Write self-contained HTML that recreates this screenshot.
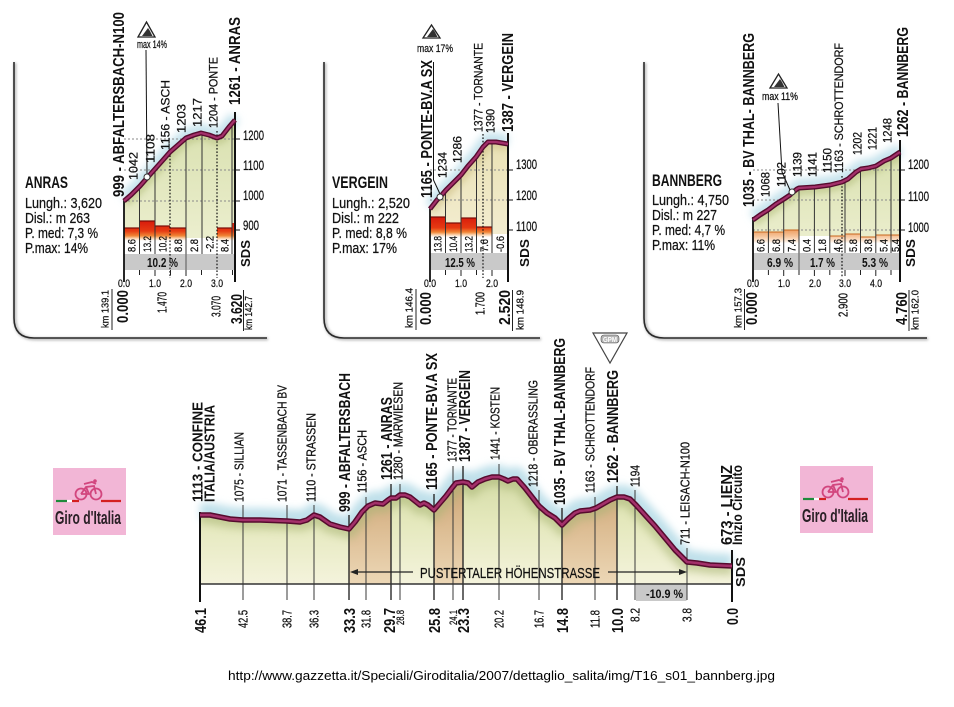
<!DOCTYPE html>
<html><head><meta charset="utf-8"><style>
html,body{margin:0;padding:0;background:#fff;}
svg{display:block;}
text{font-family:"Liberation Sans",Arial,sans-serif;fill:#111;stroke:#111;stroke-width:0.25;}
.b{font-weight:bold;stroke:none;}
</style></head><body>
<svg width="954" height="707" viewBox="0 0 954 707" xmlns="http://www.w3.org/2000/svg">
<defs>
<filter id="bl4" x="-20%" y="-50%" width="140%" height="200%"><feGaussianBlur stdDeviation="4"/></filter>
<filter id="bl3" x="-20%" y="-50%" width="140%" height="200%"><feGaussianBlur stdDeviation="3"/></filter>
<filter id="bl1" x="-10%" y="-10%" width="120%" height="120%"><feGaussianBlur stdDeviation="1.2"/></filter>
<linearGradient id="gGreen" x1="0" y1="470" x2="0" y2="584" gradientUnits="userSpaceOnUse"><stop offset="0" stop-color="#d2daa4"/><stop offset="0.45" stop-color="#e4e8bc"/><stop offset="1" stop-color="#f4f3dc"/></linearGradient>
<linearGradient id="gBrown" x1="0" y1="470" x2="0" y2="584" gradientUnits="userSpaceOnUse"><stop offset="0" stop-color="#c99f70"/><stop offset="0.5" stop-color="#dcbc92"/><stop offset="1" stop-color="#ecd7b6"/></linearGradient>
<linearGradient id="gP1" x1="0" y1="120" x2="0" y2="254" gradientUnits="userSpaceOnUse"><stop offset="0" stop-color="#d8e0ae"/><stop offset="1" stop-color="#eef0d2"/></linearGradient>
<linearGradient id="gP2" x1="0" y1="140" x2="0" y2="254" gradientUnits="userSpaceOnUse"><stop offset="0" stop-color="#e9e1b4"/><stop offset="1" stop-color="#f5efd6"/></linearGradient>
<linearGradient id="gP3" x1="0" y1="150" x2="0" y2="254" gradientUnits="userSpaceOnUse"><stop offset="0" stop-color="#d8e0ae"/><stop offset="1" stop-color="#eef0d2"/></linearGradient>
<linearGradient id="bar1" x1="0" y1="221" x2="0" y2="254" gradientUnits="userSpaceOnUse"><stop offset="0" stop-color="#d81c0c"/><stop offset="0.3" stop-color="#e63a12"/><stop offset="0.45" stop-color="#f08636"/><stop offset="0.53" stop-color="#fbd6b4"/><stop offset="0.6" stop-color="#ffffff"/><stop offset="1" stop-color="#ffffff"/></linearGradient>
<linearGradient id="bar2" x1="0" y1="217" x2="0" y2="253" gradientUnits="userSpaceOnUse"><stop offset="0" stop-color="#d81c0c"/><stop offset="0.3" stop-color="#e63a12"/><stop offset="0.42" stop-color="#f08636"/><stop offset="0.5" stop-color="#fbd6b4"/><stop offset="0.56" stop-color="#ffffff"/><stop offset="1" stop-color="#ffffff"/></linearGradient>
<linearGradient id="bar3" x1="0" y1="229" x2="0" y2="253" gradientUnits="userSpaceOnUse"><stop offset="0" stop-color="#ec9a5a"/><stop offset="0.3" stop-color="#f6c49a"/><stop offset="0.5" stop-color="#fde9d6"/><stop offset="0.6" stop-color="#ffffff"/><stop offset="1" stop-color="#ffffff"/></linearGradient>
<clipPath id="cBot"><path d="M200,515 L210,515 L220,517 L230,519 L243,520 L260,520 L287,521 L300,522 L307,520 L314,515 L320,517 L330,524 L340,527 L349,529 L355,522 L362,512 L368,506 L375,503 L383,504 L388,500 L391,498 L396,498 L400,495 L405,495 L410,497 L415,501 L420,505 L424,503 L428,505 L434,510 L440,503 L446,496 L452,488 L456,483 L463,482 L468,483 L472,487 L478,482 L485,479 L492,477 L499,477 L504,479 L508,481 L513,479 L517,479 L525,488 L532,497 L539,506 L547,513 L555,518 L562,525 L568,519 L575,513 L580,511 L590,510 L596,508 L603,504 L610,500 L617,497 L624,497 L630,499 L636,505 L645,515 L655,526 L665,538 L675,550 L687,562 L697,563 L710,565 L732,566 L732,584 L200,584 Z"/></clipPath>
<clipPath id="cP1"><path d="M124,201 L131,195 L140,186 L147,178 L155,169 L163,160 L170,152 L178,145 L186,138 L194,135 L201,133 L209,135 L217,138 L222,136 L229,127 L235,120 L235,254 L124,254 Z"/></clipPath>
<clipPath id="cP2"><path d="M430,209 L437,200 L440,197 L446,190 L453,183 L461,175 L468,166 L476,157 L483,147 L488,142 L496,142 L508,144 L508,254 L430,254 Z"/></clipPath>
<clipPath id="cP3"><path d="M753,220 L760,215 L768,210 L776,204 L784,199 L790,195 L792,193 L797,189 L799,188 L815,187 L830,185 L842,182 L848,179 L856,172 L861,169 L868,168 L876,166 L884,161 L891,158 L900,152 L900,254 L753,254 Z"/></clipPath>
</defs>

<!-- ============ PANEL FRAMES ============ -->
<g fill="none">
<path d="M15,63 L15,318 Q15,339 36,339 L268,339" stroke="#bdbdbd" stroke-width="3" filter="url(#bl1)"/>
<path d="M14,62 L14,318 Q14,338 34,338 L267,338" stroke="#2a2a2a" stroke-width="1.6"/>
<path d="M325,63 L325,318 Q325,339 346,339 L541,339" stroke="#bdbdbd" stroke-width="3" filter="url(#bl1)"/>
<path d="M324,62 L324,318 Q324,338 344,338 L540,338" stroke="#2a2a2a" stroke-width="1.6"/>
<path d="M645,63 L645,318 Q645,339 666,339 L928,339" stroke="#bdbdbd" stroke-width="3" filter="url(#bl1)"/>
<path d="M644,62 L644,318 Q644,338 664,338 L927,338" stroke="#2a2a2a" stroke-width="1.6"/>
</g>

<!-- ============ PANEL 1 : ANRAS ============ -->
<path d="M124,198 L131,192 L140,183 L147,175 L155,166 L163,157 L170,149 L178,142 L186,135 L194,132 L201,130 L209,132 L217,135 L222,133 L229,124 L235,117" fill="none" stroke="#c4e2ec" stroke-width="12" filter="url(#bl4)"/>
<rect x="124" y="110" width="111" height="145" fill="url(#gP1)" clip-path="url(#cP1)"/>
<path d="M124,201 L131,195 L140,186 L147,178 L155,169 L163,160 L170,152 L178,145 L186,138 L194,135 L201,133 L209,135 L217,138 L222,136 L229,127 L235,120" fill="none" stroke="#b9c385" stroke-width="14" opacity="0.6" filter="url(#bl3)" clip-path="url(#cP1)"/>
<g stroke="#8a8a8a" stroke-width="1" stroke-dasharray="2,2"><line x1="124" y1="139" x2="235" y2="139"/><line x1="124" y1="170" x2="235" y2="170"/><line x1="124" y1="201" x2="235" y2="201"/></g>
<g fill="url(#bar1)">
<rect x="124" y="228" width="15.5" height="26"/><rect x="139.5" y="221" width="15.5" height="33"/><rect x="155" y="226" width="15" height="28"/><rect x="170" y="228" width="16" height="26"/><rect x="186" y="238" width="16" height="16" fill="#fff"/><rect x="202" y="238" width="15" height="16" fill="#fff"/><rect x="217" y="228" width="15" height="26"/><rect x="232" y="223" width="3" height="31"/>
</g>
<g stroke="#7a0c08" stroke-width="1.2"><line x1="124" y1="228" x2="139.5" y2="228"/><line x1="139.5" y1="221" x2="155" y2="221"/><line x1="155" y1="226" x2="170" y2="226"/><line x1="170" y1="228" x2="186" y2="228"/><line x1="217" y1="228" x2="232" y2="228"/></g>
<g stroke="#333" stroke-width="1"><line x1="139.5" y1="185" x2="139.5" y2="254"/><line x1="155" y1="169" x2="155" y2="254"/><line x1="186" y1="138" x2="186" y2="270"/><line x1="202" y1="133" x2="202" y2="254"/><line x1="232" y1="124" x2="232" y2="254"/></g>
<rect x="124" y="254" width="111" height="16" fill="#c9c9c9"/>
<line x1="186" y1="254" x2="186" y2="270" stroke="#555" stroke-width="1"/>
<g stroke="#111" stroke-width="1.2" stroke-dasharray="1.6,1.8"><line x1="170" y1="152" x2="170" y2="278"/><line x1="217" y1="131" x2="217" y2="278"/></g>
<text class="b" x="147" y="267" font-size="13" textLength="31" lengthAdjust="spacingAndGlyphs">10.2 %</text>
<g stroke="#222" stroke-width="1"><line x1="139.5" y1="270" x2="139.5" y2="275"/><line x1="155" y1="270" x2="155" y2="276"/><line x1="170.5" y1="270" x2="170.5" y2="275"/><line x1="186" y1="270" x2="186" y2="276"/><line x1="201.5" y1="270" x2="201.5" y2="275"/><line x1="232.5" y1="270" x2="232.5" y2="275"/></g>
<line x1="124" y1="200" x2="124" y2="282" stroke="#111" stroke-width="1.8"/>
<line x1="235" y1="112" x2="235" y2="282" stroke="#111" stroke-width="2"/>
<g stroke="#111" stroke-width="1"><line x1="235" y1="139" x2="240" y2="139"/><line x1="235" y1="170" x2="240" y2="170"/><line x1="235" y1="201" x2="240" y2="201"/><line x1="235" y1="230" x2="240" y2="230"/></g>
<g font-size="14"><text x="243" y="140" textLength="21" lengthAdjust="spacingAndGlyphs">1200</text><text x="243" y="170" textLength="21" lengthAdjust="spacingAndGlyphs">1100</text><text x="243" y="200" textLength="21" lengthAdjust="spacingAndGlyphs">1000</text><text x="243" y="230" textLength="16" lengthAdjust="spacingAndGlyphs">900</text></g>
<path d="M124,201 L131,195 L140,186 L147,178 L155,169 L163,160 L170,152 L178,145 L186,138 L194,135 L201,133 L209,135 L217,138 L222,136 L229,127 L235,120" fill="none" stroke="#560b2e" stroke-width="5" stroke-linejoin="round"/>
<path d="M124,201 L131,195 L140,186 L147,178 L155,169 L163,160 L170,152 L178,145 L186,138 L194,135 L201,133 L209,135 L217,138 L222,136 L229,127 L235,120" fill="none" stroke="#a3306a" stroke-width="2.2" stroke-linejoin="round"/>
<path d="M146,50 L147,174" stroke="#111" stroke-width="1" fill="none"/>
<circle cx="147" cy="177" r="3" fill="#fff" stroke="#333" stroke-width="1"/>
<polygon points="138,37 146.5,22 155,37" fill="#fff" stroke="#222" stroke-width="1.3"/>
<polygon points="142,36 148,28 150,31 152.5,36" fill="#333"/>
<text x="137" y="48" font-size="11" textLength="30" lengthAdjust="spacingAndGlyphs">max 14%</text>
<g font-size="12">
<text class="b" font-size="16" transform="translate(123.8,197) rotate(-90)" textLength="185" lengthAdjust="spacingAndGlyphs">999 - ABFALTERSBACH-N100</text>
<text transform="translate(137.3,180) rotate(-90)" textLength="28" lengthAdjust="spacingAndGlyphs">1042</text>
<text transform="translate(154.3,163) rotate(-90)" textLength="29" lengthAdjust="spacingAndGlyphs">1108</text>
<text transform="translate(169.3,150) rotate(-90)" textLength="70" lengthAdjust="spacingAndGlyphs">1156 - ASCH</text>
<text transform="translate(185.3,133) rotate(-90)" textLength="29" lengthAdjust="spacingAndGlyphs">1203</text>
<text transform="translate(201.3,127) rotate(-90)" textLength="29" lengthAdjust="spacingAndGlyphs">1217</text>
<text transform="translate(217.3,128) rotate(-90)" textLength="71" lengthAdjust="spacingAndGlyphs">1204 - PONTE</text>
<text class="b" font-size="16" transform="translate(239.8,105) rotate(-90)" textLength="88" lengthAdjust="spacingAndGlyphs">1261 - ANRAS</text>
</g>
<g font-size="11">
<text transform="translate(135.7,252) rotate(-90)" textLength="13" lengthAdjust="spacingAndGlyphs">8.6</text>
<text transform="translate(151.2,252) rotate(-90)" textLength="16" lengthAdjust="spacingAndGlyphs">13.2</text>
<text transform="translate(166.5,252) rotate(-90)" textLength="16" lengthAdjust="spacingAndGlyphs">10.2</text>
<text transform="translate(182,252) rotate(-90)" textLength="13" lengthAdjust="spacingAndGlyphs">8.8</text>
<text transform="translate(198,252) rotate(-90)" textLength="13" lengthAdjust="spacingAndGlyphs">2.8</text>
<text transform="translate(213.5,252) rotate(-90)" textLength="16" lengthAdjust="spacingAndGlyphs">-2.2</text>
<text transform="translate(228.5,252) rotate(-90)" textLength="13" lengthAdjust="spacingAndGlyphs">8.4</text>
</g>
<g font-size="11"><text x="118" y="287" textLength="12" lengthAdjust="spacingAndGlyphs">0.0</text><text x="149" y="287" textLength="12" lengthAdjust="spacingAndGlyphs">1.0</text><text x="180" y="287" textLength="12" lengthAdjust="spacingAndGlyphs">2.0</text><text x="211" y="287" textLength="12" lengthAdjust="spacingAndGlyphs">3.0</text></g>
<text font-size="10" transform="translate(108.6,328) rotate(-90)" textLength="38" lengthAdjust="spacingAndGlyphs">km 139.1</text>
<line x1="112" y1="289" x2="112" y2="330" stroke="#222" stroke-width="1"/>
<text class="b" font-size="16" transform="translate(127.8,323) rotate(-90)" textLength="33" lengthAdjust="spacingAndGlyphs">0.000</text>
<text font-size="13" transform="translate(166.7,313) rotate(-90)" textLength="21" lengthAdjust="spacingAndGlyphs">1.470</text>
<text font-size="13" transform="translate(220.7,317) rotate(-90)" textLength="21" lengthAdjust="spacingAndGlyphs">3.070</text>
<text class="b" font-size="16" transform="translate(241.8,324) rotate(-90)" textLength="30" lengthAdjust="spacingAndGlyphs">3.620</text>
<line x1="243.5" y1="290" x2="243.5" y2="331" stroke="#222" stroke-width="1"/>
<text font-size="10" transform="translate(252,330) rotate(-90)" textLength="34" lengthAdjust="spacingAndGlyphs">km 142.7</text>
<text class="b" font-size="13" transform="translate(250,267) rotate(-90)" textLength="27" lengthAdjust="spacingAndGlyphs">SDS</text>
<text class="b" x="25" y="188" font-size="17" textLength="43" lengthAdjust="spacingAndGlyphs">ANRAS</text>
<g font-size="15"><text x="25" y="208" textLength="77" lengthAdjust="spacingAndGlyphs">Lungh.: 3,620</text><text x="25" y="223" textLength="65" lengthAdjust="spacingAndGlyphs">Disl.: m 263</text><text x="25" y="238" textLength="73" lengthAdjust="spacingAndGlyphs">P. med: 7,3 %</text><text x="25" y="253" textLength="63" lengthAdjust="spacingAndGlyphs">P.max: 14%</text></g>

<!-- ============ PANEL 2 : VERGEIN ============ -->
<path d="M430,206 L437,197 L440,194 L446,187 L453,180 L461,172 L468,163 L476,154 L483,144 L488,139 L496,139 L508,141" fill="none" stroke="#c4e2ec" stroke-width="12" filter="url(#bl4)"/>
<rect x="430" y="130" width="78" height="125" fill="url(#gP2)" clip-path="url(#cP2)"/>
<path d="M430,209 L437,200 L440,197 L446,190 L453,183 L461,175 L468,166 L476,157 L483,147 L488,142 L496,142 L508,144" fill="none" stroke="#cdbf86" stroke-width="14" opacity="0.55" filter="url(#bl3)" clip-path="url(#cP2)"/>
<g stroke="#8a8a8a" stroke-width="1" stroke-dasharray="2,2"><line x1="430" y1="170" x2="508" y2="170"/><line x1="430" y1="200" x2="508" y2="200"/></g>
<g fill="url(#bar2)"><rect x="430" y="217" width="15.5" height="36"/><rect x="445.5" y="223" width="15.5" height="30"/><rect x="461" y="218" width="15.5" height="35"/><rect x="476.5" y="227" width="15.5" height="26"/><rect x="492" y="234" width="16" height="19" fill="#fff"/></g>
<g stroke="#7a0c08" stroke-width="1.2"><line x1="430" y1="217" x2="445.5" y2="217"/><line x1="445.5" y1="223" x2="461" y2="223"/><line x1="461" y1="218" x2="476.5" y2="218"/><line x1="476.5" y1="227" x2="492" y2="227"/></g>
<g stroke="#333" stroke-width="1"><line x1="445.5" y1="190" x2="445.5" y2="253"/><line x1="461" y1="175" x2="461" y2="253"/><line x1="476.5" y1="157" x2="476.5" y2="253"/><line x1="492" y1="142" x2="492" y2="253"/></g>
<rect x="430" y="253" width="78" height="17" fill="#c9c9c9"/>
<line x1="483" y1="134" x2="483" y2="278" stroke="#111" stroke-width="1.2" stroke-dasharray="1.6,1.8"/>
<text class="b" x="445" y="267" font-size="13" textLength="30" lengthAdjust="spacingAndGlyphs">12.5 %</text>
<g stroke="#222" stroke-width="1"><line x1="445.5" y1="270" x2="445.5" y2="275"/><line x1="461" y1="270" x2="461" y2="276"/><line x1="476.5" y1="270" x2="476.5" y2="275"/><line x1="492" y1="270" x2="492" y2="276"/></g>
<line x1="430" y1="206" x2="430" y2="282" stroke="#111" stroke-width="1.8"/>
<line x1="508" y1="133" x2="508" y2="282" stroke="#111" stroke-width="2"/>
<g stroke="#111" stroke-width="1"><line x1="508" y1="170" x2="513" y2="170"/><line x1="508" y1="200" x2="513" y2="200"/><line x1="508" y1="230" x2="513" y2="230"/></g>
<g font-size="14"><text x="516" y="169" textLength="21" lengthAdjust="spacingAndGlyphs">1300</text><text x="516" y="200" textLength="21" lengthAdjust="spacingAndGlyphs">1200</text><text x="516" y="231" textLength="21" lengthAdjust="spacingAndGlyphs">1100</text></g>
<path d="M430,209 L437,200 L440,197 L446,190 L453,183 L461,175 L468,166 L476,157 L483,147 L488,142 L496,142 L508,144" fill="none" stroke="#560b2e" stroke-width="5" stroke-linejoin="round"/>
<path d="M430,209 L437,200 L440,197 L446,190 L453,183 L461,175 L468,166 L476,157 L483,147 L488,142 L496,142 L508,144" fill="none" stroke="#a3306a" stroke-width="2.2" stroke-linejoin="round"/>
<path d="M433.5,62 L433.5,180 L440,194" stroke="#111" stroke-width="1" fill="none"/>
<circle cx="440" cy="197" r="3" fill="#fff" stroke="#333" stroke-width="1"/>
<polygon points="423,38 431.5,25 440,38" fill="#fff" stroke="#222" stroke-width="1.3"/>
<polygon points="427,37 433,29 435,32 437.5,37" fill="#333"/>
<text x="417" y="52" font-size="11" textLength="36" lengthAdjust="spacingAndGlyphs">max 17%</text>
<g font-size="12">
<text class="b" font-size="16" transform="translate(431.8,198) rotate(-90)" textLength="138" lengthAdjust="spacingAndGlyphs">1165 - PONTE-BV.A SX</text>
<text transform="translate(446.3,178) rotate(-90)" textLength="26" lengthAdjust="spacingAndGlyphs">1234</text>
<text transform="translate(461.3,163) rotate(-90)" textLength="27" lengthAdjust="spacingAndGlyphs">1286</text>
<text transform="translate(482.3,132) rotate(-90)" textLength="89" lengthAdjust="spacingAndGlyphs">1377 - TORNANTE</text>
<text transform="translate(494.3,133) rotate(-90)" textLength="24" lengthAdjust="spacingAndGlyphs">1390</text>
<text class="b" font-size="16" transform="translate(512.8,132) rotate(-90)" textLength="99" lengthAdjust="spacingAndGlyphs">1387 - VERGEIN</text>
</g>
<g font-size="11">
<text transform="translate(441.7,252) rotate(-90)" textLength="16" lengthAdjust="spacingAndGlyphs">13.8</text>
<text transform="translate(457.2,252) rotate(-90)" textLength="16" lengthAdjust="spacingAndGlyphs">10.4</text>
<text transform="translate(472.7,252) rotate(-90)" textLength="16" lengthAdjust="spacingAndGlyphs">13.2</text>
<text transform="translate(488.2,252) rotate(-90)" textLength="13" lengthAdjust="spacingAndGlyphs">7.6</text>
<text transform="translate(504,252) rotate(-90)" textLength="16" lengthAdjust="spacingAndGlyphs">-0.6</text>
</g>
<g font-size="11"><text x="424" y="287" textLength="12" lengthAdjust="spacingAndGlyphs">0.0</text><text x="455" y="287" textLength="12" lengthAdjust="spacingAndGlyphs">1.0</text><text x="486" y="287" textLength="12" lengthAdjust="spacingAndGlyphs">2.0</text></g>
<text font-size="10" transform="translate(412.6,328) rotate(-90)" textLength="40" lengthAdjust="spacingAndGlyphs">km 146.4</text>
<line x1="416" y1="289" x2="416" y2="330" stroke="#222" stroke-width="1"/>
<text class="b" font-size="16" transform="translate(430.8,325) rotate(-90)" textLength="33" lengthAdjust="spacingAndGlyphs">0.000</text>
<text font-size="13" transform="translate(484.7,315) rotate(-90)" textLength="23" lengthAdjust="spacingAndGlyphs">1.700</text>
<text class="b" font-size="16" transform="translate(509.8,325) rotate(-90)" textLength="35" lengthAdjust="spacingAndGlyphs">2.520</text>
<line x1="512.5" y1="290" x2="512.5" y2="331" stroke="#222" stroke-width="1"/>
<text font-size="10" transform="translate(523.6,330) rotate(-90)" textLength="40" lengthAdjust="spacingAndGlyphs">km 148.9</text>
<text class="b" font-size="13" transform="translate(529,267) rotate(-90)" textLength="28" lengthAdjust="spacingAndGlyphs">SDS</text>
<text class="b" x="332" y="188" font-size="17" textLength="56" lengthAdjust="spacingAndGlyphs">VERGEIN</text>
<g font-size="15"><text x="332" y="208" textLength="78" lengthAdjust="spacingAndGlyphs">Lungh.: 2,520</text><text x="332" y="223" textLength="67" lengthAdjust="spacingAndGlyphs">Disl.: m 222</text><text x="332" y="238" textLength="75" lengthAdjust="spacingAndGlyphs">P. med: 8,8 %</text><text x="332" y="253" textLength="65" lengthAdjust="spacingAndGlyphs">P.max: 17%</text></g>

<!-- ============ PANEL 3 : BANNBERG ============ -->
<path d="M753,217 L760,212 L768,207 L776,201 L784,196 L790,192 L792,190 L797,186 L799,185 L815,184 L830,182 L842,179 L848,176 L856,169 L861,166 L868,165 L876,163 L884,158 L891,155 L900,149" fill="none" stroke="#c4e2ec" stroke-width="12" filter="url(#bl4)"/>
<rect x="753" y="140" width="147" height="115" fill="url(#gP3)" clip-path="url(#cP3)"/>
<path d="M753,220 L760,215 L768,210 L776,204 L784,199 L790,195 L792,193 L797,189 L799,188 L815,187 L830,185 L842,182 L848,179 L856,172 L861,169 L868,168 L876,166 L884,161 L891,158 L900,152" fill="none" stroke="#b9c385" stroke-width="14" opacity="0.6" filter="url(#bl3)" clip-path="url(#cP3)"/>
<g stroke="#8a8a8a" stroke-width="1" stroke-dasharray="2,2"><line x1="753" y1="170" x2="900" y2="170"/><line x1="753" y1="200" x2="900" y2="200"/><line x1="753" y1="230" x2="900" y2="230"/></g>
<g fill="url(#bar3)"><rect x="753" y="232" width="15.4" height="21"/><rect x="768.4" y="232" width="15.3" height="21"/><rect x="783.7" y="230" width="15.3" height="23"/><rect x="799" y="236" width="15.4" height="17" fill="#fff"/><rect x="814.4" y="236" width="15.4" height="17" fill="#fff"/><rect x="829.8" y="236" width="15.2" height="17"/><rect x="845" y="234" width="15.5" height="19"/><rect x="860.5" y="237" width="15.3" height="16"/><rect x="875.8" y="235" width="15.2" height="18"/><rect x="891" y="235" width="9" height="18"/></g>
<g stroke="#c8661e" stroke-width="1"><line x1="753" y1="232" x2="783.7" y2="232"/><line x1="783.7" y1="230" x2="799" y2="230"/><line x1="829.8" y1="236" x2="845" y2="236"/><line x1="845" y1="234" x2="860.5" y2="234"/><line x1="860.5" y1="237" x2="875.8" y2="237"/><line x1="875.8" y1="235" x2="900" y2="235"/></g>
<g stroke="#333" stroke-width="1"><line x1="768.4" y1="210" x2="768.4" y2="253"/><line x1="783.7" y1="199" x2="783.7" y2="253"/><line x1="799" y1="188" x2="799" y2="270"/><line x1="814.4" y1="187" x2="814.4" y2="253"/><line x1="829.8" y1="185" x2="829.8" y2="253"/><line x1="845" y1="181" x2="845" y2="253"/><line x1="860.5" y1="169" x2="860.5" y2="253"/><line x1="875.8" y1="166" x2="875.8" y2="253"/><line x1="891" y1="158" x2="891" y2="253"/></g>
<rect x="753" y="253" width="147" height="17" fill="#c9c9c9"/>
<line x1="799" y1="253" x2="799" y2="270" stroke="#555" stroke-width="1"/>
<line x1="842" y1="176" x2="842" y2="278" stroke="#111" stroke-width="1.2" stroke-dasharray="1.6,1.8"/>
<g font-size="13"><text class="b" x="767" y="267" textLength="26" lengthAdjust="spacingAndGlyphs">6.9 %</text><text class="b" x="810" y="267" textLength="25" lengthAdjust="spacingAndGlyphs">1.7 %</text><text class="b" x="862" y="267" textLength="26" lengthAdjust="spacingAndGlyphs">5.3 %</text></g>
<g stroke="#222" stroke-width="1"><line x1="768.4" y1="270" x2="768.4" y2="275"/><line x1="783.7" y1="270" x2="783.7" y2="276"/><line x1="799" y1="270" x2="799" y2="275"/><line x1="814.4" y1="270" x2="814.4" y2="276"/><line x1="829.8" y1="270" x2="829.8" y2="275"/><line x1="845" y1="270" x2="845" y2="276"/><line x1="860.5" y1="270" x2="860.5" y2="275"/><line x1="875.8" y1="270" x2="875.8" y2="276"/><line x1="891" y1="270" x2="891" y2="275"/></g>
<line x1="753" y1="217" x2="753" y2="282" stroke="#111" stroke-width="1.8"/>
<line x1="900" y1="140" x2="900" y2="282" stroke="#111" stroke-width="2"/>
<g stroke="#111" stroke-width="1"><line x1="900" y1="170" x2="905" y2="170"/><line x1="900" y1="200" x2="905" y2="200"/><line x1="900" y1="230" x2="905" y2="230"/></g>
<g font-size="14"><text x="908" y="169" textLength="21" lengthAdjust="spacingAndGlyphs">1200</text><text x="908" y="201" textLength="21" lengthAdjust="spacingAndGlyphs">1100</text><text x="908" y="232" textLength="21" lengthAdjust="spacingAndGlyphs">1000</text></g>
<path d="M753,220 L760,215 L768,210 L776,204 L784,199 L790,195 L792,193 L797,189 L799,188 L815,187 L830,185 L842,182 L848,179 L856,172 L861,169 L868,168 L876,166 L884,161 L891,158 L900,152" fill="none" stroke="#560b2e" stroke-width="5" stroke-linejoin="round"/>
<path d="M753,220 L760,215 L768,210 L776,204 L784,199 L790,195 L792,193 L797,189 L799,188 L815,187 L830,185 L842,182 L848,179 L856,172 L861,169 L868,168 L876,166 L884,161 L891,158 L900,152" fill="none" stroke="#a3306a" stroke-width="2.2" stroke-linejoin="round"/>
<path d="M778,103 L782,172 L790,190" stroke="#111" stroke-width="1" fill="none"/>
<circle cx="792" cy="192" r="3" fill="#fff" stroke="#333" stroke-width="1"/>
<polygon points="770,88 778.5,74 787,88" fill="#fff" stroke="#222" stroke-width="1.3"/>
<polygon points="774,87 780,79 782,82 784.5,87" fill="#333"/>
<text x="762" y="100" font-size="11" textLength="36" lengthAdjust="spacingAndGlyphs">max 11%</text>
<g font-size="12">
<text class="b" font-size="16" transform="translate(753.8,207) rotate(-90)" textLength="174" lengthAdjust="spacingAndGlyphs">1035 - BV THAL- BANNBERG</text>
<text transform="translate(769.3,197) rotate(-90)" textLength="25" lengthAdjust="spacingAndGlyphs">1068</text>
<text transform="translate(785.3,187) rotate(-90)" textLength="25" lengthAdjust="spacingAndGlyphs">1102</text>
<text transform="translate(801.3,177) rotate(-90)" textLength="25" lengthAdjust="spacingAndGlyphs">1139</text>
<text transform="translate(816.3,177) rotate(-90)" textLength="25" lengthAdjust="spacingAndGlyphs">1141</text>
<text transform="translate(831.3,173) rotate(-90)" textLength="25" lengthAdjust="spacingAndGlyphs">1150</text>
<text transform="translate(842.8,173) rotate(-90)" textLength="130" lengthAdjust="spacingAndGlyphs">1163 - SCHROTTENDORF</text>
<text transform="translate(861.3,155) rotate(-90)" textLength="23" lengthAdjust="spacingAndGlyphs">1202</text>
<text transform="translate(876.3,150) rotate(-90)" textLength="23" lengthAdjust="spacingAndGlyphs">1221</text>
<text transform="translate(891.3,143) rotate(-90)" textLength="25" lengthAdjust="spacingAndGlyphs">1248</text>
<text class="b" font-size="16" transform="translate(907.8,137) rotate(-90)" textLength="110" lengthAdjust="spacingAndGlyphs">1262 - BANNBERG</text>
</g>
<g font-size="11">
<text transform="translate(764.7,252) rotate(-90)" textLength="13" lengthAdjust="spacingAndGlyphs">6.6</text>
<text transform="translate(780,252) rotate(-90)" textLength="13" lengthAdjust="spacingAndGlyphs">6.8</text>
<text transform="translate(795.3,252) rotate(-90)" textLength="13" lengthAdjust="spacingAndGlyphs">7.4</text>
<text transform="translate(810.7,252) rotate(-90)" textLength="13" lengthAdjust="spacingAndGlyphs">0.4</text>
<text transform="translate(826,252) rotate(-90)" textLength="13" lengthAdjust="spacingAndGlyphs">1.8</text>
<text transform="translate(841.5,252) rotate(-90)" textLength="13" lengthAdjust="spacingAndGlyphs">4.6</text>
<text transform="translate(857,252) rotate(-90)" textLength="13" lengthAdjust="spacingAndGlyphs">5.8</text>
<text transform="translate(872,252) rotate(-90)" textLength="13" lengthAdjust="spacingAndGlyphs">3.8</text>
<text transform="translate(887.5,252) rotate(-90)" textLength="13" lengthAdjust="spacingAndGlyphs">5.4</text>
<text font-size="10" transform="translate(899,252) rotate(-90)" textLength="13" lengthAdjust="spacingAndGlyphs">5.4</text>
</g>
<g font-size="11"><text x="747" y="287" textLength="12" lengthAdjust="spacingAndGlyphs">0.0</text><text x="778" y="287" textLength="12" lengthAdjust="spacingAndGlyphs">1.0</text><text x="809" y="287" textLength="12" lengthAdjust="spacingAndGlyphs">2.0</text><text x="839" y="287" textLength="12" lengthAdjust="spacingAndGlyphs">3.0</text><text x="870" y="287" textLength="12" lengthAdjust="spacingAndGlyphs">4.0</text></g>
<text font-size="10" transform="translate(741.6,328) rotate(-90)" textLength="40" lengthAdjust="spacingAndGlyphs">km 157.3</text>
<line x1="744.5" y1="289" x2="744.5" y2="330" stroke="#222" stroke-width="1"/>
<text class="b" font-size="16" transform="translate(756.8,325) rotate(-90)" textLength="33" lengthAdjust="spacingAndGlyphs">0.000</text>
<text font-size="13" transform="translate(847.7,317) rotate(-90)" textLength="24" lengthAdjust="spacingAndGlyphs">2.900</text>
<text class="b" font-size="16" transform="translate(906.8,325) rotate(-90)" textLength="33" lengthAdjust="spacingAndGlyphs">4.760</text>
<line x1="909" y1="290" x2="909" y2="331" stroke="#222" stroke-width="1"/>
<text font-size="10" transform="translate(918.6,330) rotate(-90)" textLength="40" lengthAdjust="spacingAndGlyphs">km 162.0</text>
<text class="b" font-size="13" transform="translate(915,267) rotate(-90)" textLength="28" lengthAdjust="spacingAndGlyphs">SDS</text>
<text class="b" x="652" y="186" font-size="17" textLength="70" lengthAdjust="spacingAndGlyphs">BANNBERG</text>
<g font-size="15"><text x="652" y="205" textLength="77" lengthAdjust="spacingAndGlyphs">Lungh.: 4,750</text><text x="652" y="220" textLength="65" lengthAdjust="spacingAndGlyphs">Disl.: m 227</text><text x="652" y="235" textLength="73" lengthAdjust="spacingAndGlyphs">P. med: 4,7 %</text><text x="652" y="250" textLength="63" lengthAdjust="spacingAndGlyphs">P.max: 11%</text></g>

<!-- ============ BOTTOM OVERALL PROFILE ============ -->
<path d="M200,511 L210,511 L220,513 L230,515 L243,516 L260,516 L287,517 L300,518 L307,516 L314,511 L320,513 L330,520 L340,523 L349,525 L355,518 L362,508 L368,502 L375,499 L383,500 L388,496 L391,494 L396,494 L400,491 L405,491 L410,493 L415,497 L420,501 L424,499 L428,501 L434,506 L440,499 L446,492 L452,484 L456,479 L463,478 L468,479 L472,483 L478,478 L485,475 L492,473 L499,473 L504,475 L508,477 L513,475 L517,475 L525,484 L532,493 L539,502 L547,509 L555,514 L562,521 L568,515 L575,509 L580,507 L590,506 L596,504 L603,500 L610,496 L617,493 L624,493 L630,495 L636,501 L645,511 L655,522 L665,534 L675,546 L687,558 L697,559 L710,561 L732,562" fill="none" stroke="#bfe0ea" stroke-width="16" filter="url(#bl4)"/>
<g clip-path="url(#cBot)">
<rect x="200" y="470" width="532" height="114" fill="url(#gGreen)"/>
<rect x="349" y="470" width="42" height="114" fill="url(#gBrown)"/>
<rect x="434" y="470" width="29" height="114" fill="url(#gBrown)"/>
<rect x="562" y="470" width="55" height="114" fill="url(#gBrown)"/>
<path d="M200,515 L210,515 L220,517 L230,519 L243,520 L260,520 L287,521 L300,522 L307,520 L314,515 L320,517 L330,524 L340,527 L349,529 L355,522 L362,512 L368,506 L375,503 L383,504 L388,500 L391,498 L396,498 L400,495 L405,495 L410,497 L415,501 L420,505 L424,503 L428,505 L434,510 L440,503 L446,496 L452,488 L456,483 L463,482 L468,483 L472,487 L478,482 L485,479 L492,477 L499,477 L504,479 L508,481 L513,479 L517,479 L525,488 L532,497 L539,506 L547,513 L555,518 L562,525 L568,519 L575,513 L580,511 L590,510 L596,508 L603,504 L610,500 L617,497 L624,497 L630,499 L636,505 L645,515 L655,526 L665,538 L675,550 L687,562 L697,563 L710,565 L732,566" fill="none" stroke="#a9b576" stroke-width="18" opacity="0.55" filter="url(#bl4)"/>
</g>
<g stroke="#3a3a3a" stroke-width="1">
<line x1="243" y1="505" x2="243" y2="600"/><line x1="287" y1="505" x2="287" y2="600"/><line x1="314" y1="505" x2="314" y2="600"/><line x1="366" y1="497" x2="366" y2="600"/><line x1="400" y1="484" x2="400" y2="600"/><line x1="453" y1="466" x2="453" y2="600"/><line x1="499" y1="464" x2="499" y2="600"/><line x1="539" y1="490" x2="539" y2="600"/><line x1="595" y1="497" x2="595" y2="600"/><line x1="635" y1="490" x2="635" y2="600"/><line x1="687" y1="548" x2="687" y2="600"/>
</g>
<g stroke="#2a2a2a" stroke-width="1.4">
<line x1="349" y1="515" x2="349" y2="600"/><line x1="391" y1="484" x2="391" y2="600"/><line x1="434" y1="494" x2="434" y2="600"/><line x1="463" y1="466" x2="463" y2="600"/><line x1="562" y1="508" x2="562" y2="600"/><line x1="617" y1="486" x2="617" y2="600"/>
</g>
<line x1="200" y1="584" x2="732" y2="584" stroke="#333" stroke-width="1.6"/>
<line x1="200" y1="512" x2="200" y2="602" stroke="#111" stroke-width="2"/>
<line x1="732" y1="550" x2="732" y2="602" stroke="#111" stroke-width="2"/>
<rect x="636" y="585" width="50.5" height="16" fill="#c9c9c9"/>
<text class="b" x="646" y="598" font-size="12" textLength="37" lengthAdjust="spacingAndGlyphs">-10.9 %</text>
<line x1="355" y1="572" x2="413" y2="572" stroke="#222" stroke-width="1.2"/>
<polygon points="350,572 358,569 358,575" fill="#222"/>
<line x1="608" y1="572" x2="682" y2="572" stroke="#222" stroke-width="1.2"/>
<polygon points="687,572 679,569 679,575" fill="#222"/>
<text x="420" y="578" font-size="15" textLength="180" lengthAdjust="spacingAndGlyphs">PUSTERTALER HÖHENSTRASSE</text>
<path d="M200,515 L210,515 L220,517 L230,519 L243,520 L260,520 L287,521 L300,522 L307,520 L314,515 L320,517 L330,524 L340,527 L349,529 L355,522 L362,512 L368,506 L375,503 L383,504 L388,500 L391,498 L396,498 L400,495 L405,495 L410,497 L415,501 L420,505 L424,503 L428,505 L434,510 L440,503 L446,496 L452,488 L456,483 L463,482 L468,483 L472,487 L478,482 L485,479 L492,477 L499,477 L504,479 L508,481 L513,479 L517,479 L525,488 L532,497 L539,506 L547,513 L555,518 L562,525 L568,519 L575,513 L580,511 L590,510 L596,508 L603,504 L610,500 L617,497 L624,497 L630,499 L636,505 L645,515 L655,526 L665,538 L675,550 L687,562 L697,563 L710,565 L732,566" fill="none" stroke="#560b2e" stroke-width="5.5" stroke-linejoin="round"/>
<path d="M200,515 L210,515 L220,517 L230,519 L243,520 L260,520 L287,521 L300,522 L307,520 L314,515 L320,517 L330,524 L340,527 L349,529 L355,522 L362,512 L368,506 L375,503 L383,504 L388,500 L391,498 L396,498 L400,495 L405,495 L410,497 L415,501 L420,505 L424,503 L428,505 L434,510 L440,503 L446,496 L452,488 L456,483 L463,482 L468,483 L472,487 L478,482 L485,479 L492,477 L499,477 L504,479 L508,481 L513,479 L517,479 L525,488 L532,497 L539,506 L547,513 L555,518 L562,525 L568,519 L575,513 L580,511 L590,510 L596,508 L603,504 L610,500 L617,497 L624,497 L630,499 L636,505 L645,515 L655,526 L665,538 L675,550 L687,562 L697,563 L710,565 L732,566" fill="none" stroke="#a3306a" stroke-width="2.5" stroke-linejoin="round"/>
<g font-size="13">
<text class="b" font-size="15" transform="translate(202.4,502) rotate(-90)" textLength="100" lengthAdjust="spacingAndGlyphs">1113 - CONFINE</text>
<text class="b" font-size="15" transform="translate(214.4,502) rotate(-90)" textLength="97" lengthAdjust="spacingAndGlyphs">ITALIA/AUSTRIA</text>
<text transform="translate(243.7,502) rotate(-90)" textLength="70" lengthAdjust="spacingAndGlyphs">1075 - SILLIAN</text>
<text transform="translate(286.7,502) rotate(-90)" textLength="117" lengthAdjust="spacingAndGlyphs">1071 - TASSENBACH BV</text>
<text transform="translate(315.7,502) rotate(-90)" textLength="89" lengthAdjust="spacingAndGlyphs">1110 - STRASSEN</text>
<text class="b" font-size="16" transform="translate(349.8,512) rotate(-90)" textLength="139" lengthAdjust="spacingAndGlyphs">999 - ABFALTERSBACH</text>
<text transform="translate(366.7,493) rotate(-90)" textLength="63" lengthAdjust="spacingAndGlyphs">1156 - ASCH</text>
<text class="b" font-size="16" transform="translate(391.8,480) rotate(-90)" textLength="83" lengthAdjust="spacingAndGlyphs">1261 - ANRAS</text>
<text transform="translate(402.7,480) rotate(-90)" textLength="98" lengthAdjust="spacingAndGlyphs">1280 - MARWIESEN</text>
<text class="b" font-size="16" transform="translate(436.8,490) rotate(-90)" textLength="137" lengthAdjust="spacingAndGlyphs">1165 - PONTE-BV.A SX</text>
<text transform="translate(456.7,462) rotate(-90)" textLength="84" lengthAdjust="spacingAndGlyphs">1377 - TORNANTE</text>
<text class="b" font-size="16" transform="translate(469.8,462) rotate(-90)" textLength="92" lengthAdjust="spacingAndGlyphs">1387 - VERGEIN</text>
<text transform="translate(499.7,460) rotate(-90)" textLength="73" lengthAdjust="spacingAndGlyphs">1441 - KOSTEN</text>
<text transform="translate(537.7,487) rotate(-90)" textLength="107" lengthAdjust="spacingAndGlyphs">1218 - OBERASSLING</text>
<text class="b" font-size="16" transform="translate(564.8,505) rotate(-90)" textLength="167" lengthAdjust="spacingAndGlyphs">1035 - BV THAL-BANNBERG</text>
<text transform="translate(594.7,493) rotate(-90)" textLength="126" lengthAdjust="spacingAndGlyphs">1163 - SCHROTTENDORF</text>
<text class="b" font-size="16" transform="translate(617.8,483) rotate(-90)" textLength="113" lengthAdjust="spacingAndGlyphs">1262 - BANNBERG</text>
<text transform="translate(639.7,487) rotate(-90)" textLength="22" lengthAdjust="spacingAndGlyphs">1194</text>
<text transform="translate(689.7,545) rotate(-90)" textLength="103" lengthAdjust="spacingAndGlyphs">711 - LEISACH-N100</text>
<text class="b" font-size="16" transform="translate(731.8,545) rotate(-90)" textLength="80" lengthAdjust="spacingAndGlyphs">673 - LIENZ</text>
<text class="b" font-size="14" transform="translate(742,545) rotate(-90)" textLength="80" lengthAdjust="spacingAndGlyphs">Inizio Circuito</text>
</g>
<text class="b" font-size="13" transform="translate(745,587) rotate(-90)" textLength="30" lengthAdjust="spacingAndGlyphs">SDS</text>
<g font-size="16">
<text class="b" transform="translate(205.8,633) rotate(-90)" textLength="25" lengthAdjust="spacingAndGlyphs">46.1</text>
<text class="b" transform="translate(354.8,633) rotate(-90)" textLength="25" lengthAdjust="spacingAndGlyphs">33.3</text>
<text class="b" transform="translate(394.8,633) rotate(-90)" textLength="25" lengthAdjust="spacingAndGlyphs">29.7</text>
<text class="b" transform="translate(439.8,633) rotate(-90)" textLength="25" lengthAdjust="spacingAndGlyphs">25.8</text>
<text class="b" transform="translate(468.8,633) rotate(-90)" textLength="25" lengthAdjust="spacingAndGlyphs">23.3</text>
<text class="b" transform="translate(567.8,633) rotate(-90)" textLength="25" lengthAdjust="spacingAndGlyphs">14.8</text>
<text class="b" transform="translate(622.8,633) rotate(-90)" textLength="25" lengthAdjust="spacingAndGlyphs">10.0</text>
<text class="b" transform="translate(737.8,625) rotate(-90)" textLength="17" lengthAdjust="spacingAndGlyphs">0.0</text>
</g>
<g font-size="13">
<text transform="translate(247.7,628) rotate(-90)" textLength="18" lengthAdjust="spacingAndGlyphs">42.5</text>
<text transform="translate(291.7,628) rotate(-90)" textLength="18" lengthAdjust="spacingAndGlyphs">38.7</text>
<text transform="translate(318.7,628) rotate(-90)" textLength="18" lengthAdjust="spacingAndGlyphs">36.3</text>
<text transform="translate(370.7,628) rotate(-90)" textLength="18" lengthAdjust="spacingAndGlyphs">31.8</text>
<text font-size="11" transform="translate(404,625) rotate(-90)" textLength="15" lengthAdjust="spacingAndGlyphs">28.8</text>
<text font-size="11" transform="translate(457,625) rotate(-90)" textLength="15" lengthAdjust="spacingAndGlyphs">24.1</text>
<text transform="translate(503.7,628) rotate(-90)" textLength="18" lengthAdjust="spacingAndGlyphs">20.2</text>
<text transform="translate(543.7,628) rotate(-90)" textLength="18" lengthAdjust="spacingAndGlyphs">16.7</text>
<text transform="translate(599.7,628) rotate(-90)" textLength="18" lengthAdjust="spacingAndGlyphs">11.8</text>
<text transform="translate(639.7,622) rotate(-90)" textLength="14" lengthAdjust="spacingAndGlyphs">8.2</text>
<text transform="translate(691.7,622) rotate(-90)" textLength="14" lengthAdjust="spacingAndGlyphs">3.8</text>
</g>
<polygon points="593,333 627,333 610,363" fill="#fff" stroke="#444" stroke-width="1.2"/>
<rect x="601" y="335" width="18" height="8" rx="3" fill="#b5b5b5" stroke="#555" stroke-width="0.6"/>
<text x="603" y="342" font-size="7" class="b" textLength="14" lengthAdjust="spacingAndGlyphs" style="fill:#fff">GPM</text>

<!-- ============ LOGOS ============ -->
<g>
<rect x="53" y="468" width="73" height="67" fill="#f2b6d6"/>
<g fill="none" stroke="#d2467e" stroke-width="1.8"><circle cx="81" cy="494" r="5.5"/><circle cx="96" cy="494" r="5.5"/><path d="M81,494 L86,487 L94,486 L96,494 M86,487 L89,494 L81,494 M84,484 L92,482 L96,484"/></g>
<circle cx="95" cy="481" r="1.8" fill="#d2467e"/>
<line x1="56" y1="501" x2="67" y2="501" stroke="#1f8a3c" stroke-width="2.2"/><line x1="67" y1="501" x2="72" y2="501" stroke="#fff" stroke-width="2.2"/><line x1="72" y1="501" x2="79" y2="501" stroke="#d42020" stroke-width="2.2"/>
<line x1="101" y1="501" x2="121" y2="501" stroke="#d42020" stroke-width="2.2"/>
<text class="b" x="55" y="524" font-size="18" textLength="66" lengthAdjust="spacingAndGlyphs" style="fill:#2a2026">Giro d'Italia</text>
</g>
<g transform="translate(747,-2)">
<rect x="53" y="468" width="73" height="67" fill="#f2b6d6"/>
<g fill="none" stroke="#d2467e" stroke-width="1.8"><circle cx="81" cy="494" r="5.5"/><circle cx="96" cy="494" r="5.5"/><path d="M81,494 L86,487 L94,486 L96,494 M86,487 L89,494 L81,494 M84,484 L92,482 L96,484"/></g>
<circle cx="95" cy="481" r="1.8" fill="#d2467e"/>
<line x1="56" y1="501" x2="67" y2="501" stroke="#1f8a3c" stroke-width="2.2"/><line x1="67" y1="501" x2="72" y2="501" stroke="#fff" stroke-width="2.2"/><line x1="72" y1="501" x2="79" y2="501" stroke="#d42020" stroke-width="2.2"/>
<line x1="101" y1="501" x2="121" y2="501" stroke="#d42020" stroke-width="2.2"/>
<text class="b" x="55" y="524" font-size="18" textLength="66" lengthAdjust="spacingAndGlyphs" style="fill:#2a2026">Giro d'Italia</text>
</g>

<text x="228" y="680" font-size="12.5" textLength="547" lengthAdjust="spacingAndGlyphs" style="fill:#000;stroke:none">http://www.gazzetta.it/Speciali/Giroditalia/2007/dettaglio_salita/img/T16_s01_bannberg.jpg</text>
</svg>
</body></html>
